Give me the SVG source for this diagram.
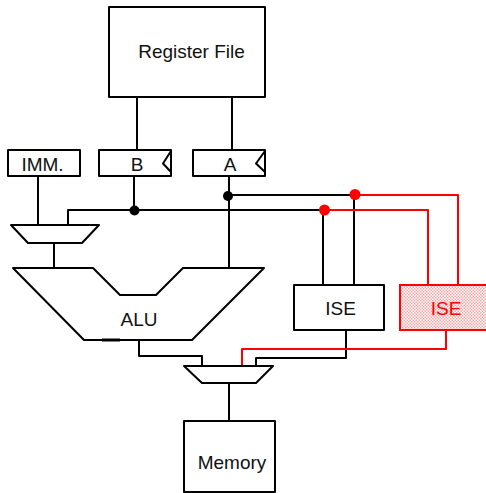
<svg xmlns="http://www.w3.org/2000/svg" width="486" height="493" viewBox="0 0 486 493">
<style>
.s{fill:none;stroke:#000;stroke-width:2;stroke-linejoin:round}
.b{fill:#fff;stroke:#000;stroke-width:2;stroke-linejoin:round}
.r{fill:none;stroke:#f00;stroke-width:2;stroke-linejoin:round}
text{font-family:"Liberation Sans",Arial,sans-serif;font-size:19px;fill:#111;text-anchor:middle}
</style>
<defs>
<pattern id="dots" width="3" height="3" patternUnits="userSpaceOnUse"><rect width="3" height="3" fill="#fff"/><rect width="1.500" height="1.500" fill="#f9a5a5"/><rect x="1.500" y="1.500" width="1.500" height="1.500" fill="#f9a5a5"/></pattern>
</defs>
<g id="connectors">
<path class="s" d="M137 97V150M232 97V150M38 177V225M134 177V210M229 177V267M54 244V268M229 195H355M68 225V210H325M323 210V285M354 195V285"/>
<path class="s" d="M139 341V356H202V366M346 330V358H256V366M229 384V421"/>
<path class="r" d="M355 195H458V285M325 210H428V285M446 330V349H242V366"/>
<circle cx="134.500" cy="210.500" r="5"/>
<circle cx="228" cy="196" r="5"/>
<circle cx="324.500" cy="210" r="5.500" fill="#f00"/>
<circle cx="355" cy="194.500" r="5.500" fill="#f00"/>
</g>
<g id="register-file"><rect class="b" x="109" y="7" width="156" height="90"/><text x="191.500" y="58">Register File</text></g>
<g id="imm"><rect class="b" x="8" y="150" width="72" height="26"/><text x="42.500" y="170.500">IMM.</text></g>
<g id="reg-b"><rect class="b" x="99" y="150" width="72" height="26"/><path class="s" d="M171 151L163 163.500L171 172"/><text x="137" y="170.500">B</text></g>
<g id="reg-a"><rect class="b" x="193" y="150" width="72" height="26"/><path class="s" d="M265 151L256 163.500L265 172"/><text x="230" y="170.500">A</text></g>
<g id="mux-top"><path class="b" d="M11 225H99L82 243H28Z"/></g>
<g id="alu"><path class="b" d="M13 268H93L120 295H156L183 268H264L192 340H84Z"/><path d="M102 340H120" fill="none" stroke="#000" stroke-width="3"/><text x="139" y="325.500">ALU</text></g>
<g id="ise"><rect class="b" x="294" y="285" width="90" height="45"/><text x="340.500" y="315">ISE</text></g>
<g id="ise-red"><rect x="400" y="285" width="90" height="45" fill="url(#dots)" stroke="#f00" stroke-width="2"/><text x="446" y="315" style="fill:#f00">ISE</text></g>
<g id="mux-bottom"><path class="b" d="M184 366H273L256 383H202Z"/></g>
<g id="memory"><rect class="b" x="184" y="421" width="91" height="71"/><text x="232" y="469">Memory</text></g>
</svg>
